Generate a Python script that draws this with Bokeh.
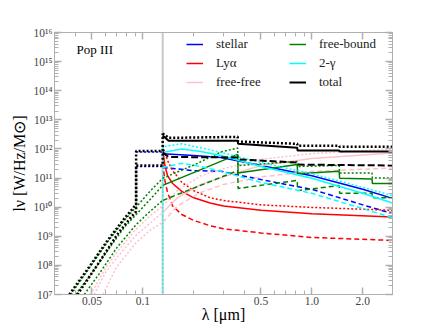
from bokeh.plotting import figure
from bokeh.models import FixedTicker, LogAxis, Span, Label, Legend, LegendItem
from bokeh.embed import file_html
from bokeh.resources import INLINE

# ---------------- data: wavelength [micron], l_nu [W/Hz/Msun] ----------------
# total
tot_sol_lam = [0.131, 0.142, 0.364, 0.366, 0.82, 0.822, 1.45, 1.46, 3.0]
tot_sol_L = [2.9e12, 1.9e12, 1.9e12, 1.5e12, 1.1e12, 8.9e11, 8.9e11, 8.1e11, 8.1e11]
tot_dot_lam = [0.131, 0.142, 0.364, 0.366, 0.82, 0.822, 1.45, 1.46, 3.0]
tot_dot_L = [3.4e12, 2.4e12, 2.6e12, 1.8e12, 1.5e12, 1.3e12, 1.3e12, 1.2e12, 1.2e12]
tot_das_lam = [0.131, 0.142, 0.364, 0.366, 0.82, 0.822, 3.0]
tot_das_L = [7.6e11, 5.3e11, 5.1e11, 4.4e11, 3.4e11, 2.9e11, 2.7e11]
tot_ionA_lam = [0.0367, 0.0494, 0.0617, 0.0775, 0.0868, 0.0912, 0.0912, 0.131, 0.131]
tot_ionA_L = [1.0e7, 1.1e8, 7.1e8, 4.0e9, 8.7e9, 1.3e10, 8.5e11, 8.5e11, 3.4e12]
tot_ionB_lam = [0.041, 0.0542, 0.0709, 0.085, 0.0912, 0.0912, 0.131, 0.131]
tot_ionB_L = [1.0e7, 1.1e8, 1.2e9, 4.5e9, 7.1e9, 2.7e11, 2.7e11, 7.6e11]

# stellar
st_lam = [0.131, 0.2, 0.29, 0.5, 1.0, 2.0, 3.0]
st_sol_L = [6.9e11, 6.0e11, 5.1e11, 2.7e11, 1.2e11, 4.1e10, 2.0e10]
st_das_L = [2.3e11, 1.8e11, 1.7e11, 8.9e10, 4.1e10, 1.2e10, 6.0e9]
st_ion_lam = [0.0912, 0.131]
st_ionA_L = [7.9e11, 7.9e11]
st_ionB_L = [2.5e11, 2.5e11]

# Lyman-alpha
ly_lam = [0.131, 0.135, 0.14, 0.15, 0.17, 0.2, 0.25, 0.3, 0.5, 1.0, 3.0]
ly_sol_L = [1.0e12, 2.7e11, 1.2e11, 6.5e10, 3.5e10, 2.1e10, 1.4e10, 1.1e10, 7.9e9, 5.9e9, 4.6e9]
ly_das_L = [3.2e11, 8.3e10, 3.2e10, 1.1e10, 5.6e9, 3.5e9, 2.3e9, 1.8e9, 1.3e9, 9.1e8, 7.2e8]
ly_dot_lam = [0.131, 0.14, 0.15, 0.17, 0.2, 0.25, 0.3, 0.5, 1.0, 3.0]
ly_dot_L = [1.3e12, 4.0e11, 1.8e11, 7.1e10, 3.7e10, 2.1e10, 1.7e10, 1.2e10, 9.8e9, 7.8e9]

# free-free
ff_lam = [0.131, 0.16, 0.22, 0.3, 0.5, 1.0, 3.0]
ff_sol_L = [6.6e9, 2.1e10, 6.0e10, 1.1e11, 2.7e11, 4.7e11, 7.2e11]
ff_das_L = [3.0e9, 1.1e10, 3.2e10, 6.0e10, 1.1e11, 1.7e11, 2.2e11]
ff_dot_L = [1.1e10, 3.7e10, 1.2e11, 2.1e11, 4.4e11, 6.9e11, 1.0e12]
ff_ionA_lam = [0.0515, 0.06, 0.07, 0.09, 0.11, 0.131]
ff_ionA_L = [1.0e7, 5.6e7, 1.8e8, 1.0e9, 2.8e9, 6.6e9]
ff_ionB_lam = [0.058, 0.07, 0.09, 0.11, 0.131]
ff_ionB_L = [1.0e7, 8.9e7, 5.6e8, 1.6e9, 3.0e9]
ff_ionC_lam = [0.049, 0.06, 0.07, 0.09, 0.11, 0.131]
ff_ionC_L = [1.0e7, 7.9e7, 2.8e8, 1.6e9, 5.0e9, 1.1e10]

# free-bound
fb_lam = [0.131, 0.364, 0.366, 0.82, 0.822, 1.45, 1.46, 2.27, 2.28, 3.0]
fb_sol_L = [5.6e10, 6.5e11, 1.5e11, 2.9e11, 1.4e11, 1.7e11, 9.8e10, 9.3e10, 6.5e10, 6.5e10]
fb_das_L = [1.7e10, 1.8e11, 4.4e10, 8.3e10, 3.7e10, 5.5e10, 3.0e10, 3.0e10, 2.1e10, 2.1e10]
fb_dot_lam = [0.131, 0.2, 0.29, 0.364, 0.366, 0.82, 0.822, 1.45, 1.46, 2.27, 2.28, 3.0]
fb_dot_L = [9.8e10, 2.8e11, 7.9e11, 1.07e12, 2.7e11, 3.7e11, 2.5e11, 2.7e11, 1.5e11, 1.5e11, 1.0e11, 1.0e11]
fb_ionA_lam = [0.040, 0.0494, 0.0617, 0.0775, 0.0912, 0.11, 0.131]
fb_ionA_L = [1.0e7, 5.0e7, 3.2e8, 2.0e9, 5.6e9, 1.8e10, 5.6e10]
fb_ionB_lam = [0.045, 0.055, 0.07, 0.0912, 0.11, 0.131]
fb_ionB_L = [1.0e7, 5.0e7, 4.0e8, 2.5e9, 7.1e9, 1.7e10]
fb_ionC_lam = [0.0375, 0.0494, 0.0617, 0.0775, 0.0912, 0.11, 0.131]
fb_ionC_L = [1.0e7, 1.0e8, 6.3e8, 3.5e9, 1.0e10, 3.5e10, 9.8e10]

# two-photon
tp_lam = [0.131, 0.17, 0.22, 0.29, 0.5, 1.0, 2.0, 3.0]
tp_sol_L = [7.6e11, 1.0e12, 8.1e11, 6.0e11, 2.5e11, 9.8e10, 3.0e10, 1.4e10]
tp_das_L = [2.3e11, 3.2e11, 2.5e11, 1.7e11, 7.1e10, 3.0e10, 8.9e9, 4.4e9]
tp_dot_lam = [0.131, 0.131, 0.17, 0.22, 0.29, 0.5, 1.0, 2.0, 3.0]
tp_dot_L = [1.0e5, 1.2e12, 1.5e12, 1.1e12, 7.6e11, 3.4e11, 1.4e11, 4.8e10, 2.5e10]

lya_line = 0.131

legend_labels = ["stellar", "Ly\u03b1", "free-free", "free-bound", "2-\u03b3", "total"]

x_tick_vals = [0.05, 0.1, 0.5, 1.0, 2.0]
x_tick_labels = ["0.05", "0.1", "0.5", "1.0", "2.0"]
y_tick_vals = [1e7, 1e8, 1e9, 1e10, 1e11, 1e12, 1e13, 1e14, 1e15, 1e16]
y_tick_labels = ["10\u2077", "10\u2078", "10\u2079", "10\u00b9\u2070", "10\u00b9\u00b9",
                 "10\u00b9\u00b2", "10\u00b9\u00b3", "10\u00b9\u2074", "10\u00b9\u2075", "10\u00b9\u2076"]

# ---------------- figure ----------------
p = figure(width=436, height=327, x_axis_type="log", y_axis_type="log",
           x_range=(0.03, 3.0), y_range=(1e7, 1e16),
           output_backend="svg", toolbar_location=None,
           min_border_left=54, min_border_right=44, min_border_top=32, min_border_bottom=33)
p.grid.visible = False
p.outline_line_color = "#b0b0b0"
p.background_fill_color = "white"

x_minor = [k * 10.0 ** e for e in (-2, -1, 0) for k in range(2, 10) if 0.03 <= k * 10.0 ** e <= 3.0]
y_minor = [k * 10.0 ** e for e in range(7, 16) for k in range(2, 10)]
xt = FixedTicker(ticks=x_tick_vals, minor_ticks=x_minor)
yt = FixedTicker(ticks=y_tick_vals, minor_ticks=y_minor)

GRAY = "#b0b0b0"

def style_axis(ax, show_labels):
    ax.axis_line_color = GRAY
    ax.major_tick_in = 7
    ax.major_tick_out = 0
    ax.minor_tick_in = 4
    ax.minor_tick_out = 0
    ax.major_tick_line_color = GRAY
    ax.major_tick_line_width = 1.5
    ax.minor_tick_line_color = GRAY
    if show_labels:
        ax.major_label_text_font = "Liberation Serif"
        ax.major_label_text_font_size = "11.5px"
        ax.major_label_text_color = "#444444"
        ax.major_label_standoff = 2
        ax.axis_label_text_font = "Liberation Serif"
        ax.axis_label_text_font_size = "16px"
        ax.axis_label_text_font_style = "normal"
        ax.axis_label_text_color = "black"
    else:
        ax.major_label_text_color = None
        ax.major_label_text_font_size = "0px"
        ax.major_label_standoff = 0

p.xaxis.ticker = xt
p.yaxis.ticker = yt
p.xaxis.major_label_overrides = {v: s for v, s in zip(x_tick_vals, x_tick_labels)}
p.yaxis.major_label_overrides = {v: s for v, s in zip(y_tick_vals, y_tick_labels)}
style_axis(p.xaxis[0], True)
style_axis(p.yaxis[0], True)
p.xaxis.axis_label = "\u03bb [\u03bcm]"
p.xaxis.axis_label_standoff = -2
p.yaxis.axis_label = "l\u03bd [W/Hz/M\u2299]"
p.yaxis.axis_label_standoff = 3

top = LogAxis(ticker=xt)
right = LogAxis(ticker=yt)
style_axis(top, False)
style_axis(right, False)
p.add_layout(top, "above")
p.add_layout(right, "right")

p.add_layout(Span(location=lya_line, dimension="height", line_color="#c8c8c8",
                  line_width=2, level="underlay"))

DOT = "2 2"
DOTK = "2 2"
DASH = "5 3"
DASHK = "7 3"

def ln(x, y, color, dash="solid", w=1.5):
    return p.line(x, y, line_color=color, line_dash=dash, line_width=w)

# stellar
ln(st_ion_lam, st_ionA_L, "blue", DOT)
ln(st_ion_lam, st_ionB_L, "blue", DOT)
r_st = ln(st_lam, st_sol_L, "blue")
ln(st_lam, st_das_L, "blue", DASH)
# Lyman alpha
r_ly = ln(ly_lam, ly_sol_L, "red")
ln(ly_lam, ly_das_L, "red", DASH)
ln(ly_dot_lam, ly_dot_L, "red", DOT)
# free-free
ln(ff_ionA_lam, ff_ionA_L, "pink", DOT)
ln(ff_ionB_lam, ff_ionB_L, "pink", DOT)
ln(ff_ionC_lam, ff_ionC_L, "pink", DOT)
r_ff = ln(ff_lam, ff_sol_L, "pink")
ln(ff_lam, ff_das_L, "pink", DASH)
ln(ff_lam, ff_dot_L, "pink", DOT)
# free-bound
ln(fb_ionA_lam, fb_ionA_L, "green", DOT)
ln(fb_ionB_lam, fb_ionB_L, "green", DOT)
ln(fb_ionC_lam, fb_ionC_L, "green", DOT)
r_fb = ln(fb_lam, fb_sol_L, "green")
ln(fb_lam, fb_das_L, "green", DASH)
ln(fb_dot_lam, fb_dot_L, "green", DOT)
# two-photon
r_tp = ln(tp_lam, tp_sol_L, "cyan")
ln(tp_lam, tp_das_L, "cyan", DASH)
ln(tp_dot_lam, tp_dot_L, "cyan", DOT)
# total
ln(tot_ionA_lam, tot_ionA_L, "black", DOTK, 2.5)
ln(tot_ionB_lam, tot_ionB_L, "black", DOTK, 2.5)
r_tot = ln(tot_sol_lam, tot_sol_L, "black", "solid", 2)
ln(tot_das_lam, tot_das_L, "black", DASHK, 2)
ln(tot_dot_lam, tot_dot_L, "black", DOTK, 2.5)

renderers = [r_st, r_ly, r_ff, r_fb, r_tp, r_tot]
legend = Legend(items=[LegendItem(label=l, renderers=[r]) for l, r in zip(legend_labels, renderers)],
                location=(132, 204), orientation="vertical", nrows=3,
                border_line_color=None, background_fill_alpha=0, padding=0, margin=0,
                spacing=3, glyph_width=17, glyph_height=14, label_height=14, label_width=70,
                label_standoff=13, label_text_font="Liberation Serif",
                label_text_font_size="13px", label_text_color="#222222")
p.add_layout(legend, "center")

p.add_layout(Label(x=22, y=245, x_units="screen", y_units="screen", text="Pop III",
                   text_baseline="middle", text_font="Liberation Serif",
                   text_font_size="13px", text_color="black"))

open("out.html", "w").write(file_html(p, INLINE))
